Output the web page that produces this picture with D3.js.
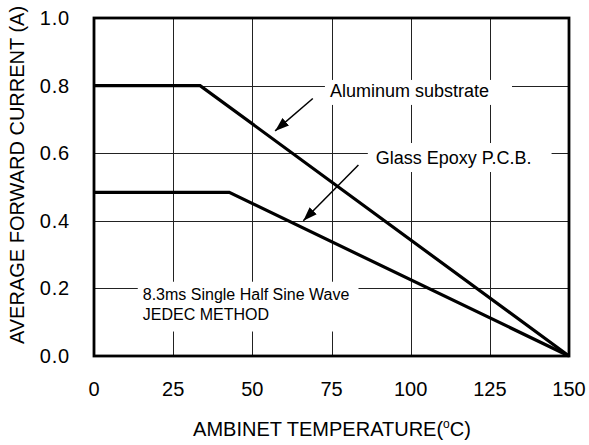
<!DOCTYPE html>
<html>
<head>
<meta charset="utf-8">
<script src="https://cdn.jsdelivr.net/npm/d3@7"></script>
<style>
  body { margin:0; background:#fff; }
  svg text { font-family: "Liberation Sans", Arial, sans-serif; fill:#000; }
</style>
</head>
<body>
<svg id="chart" width="589" height="445"></svg>
<script>
// data
const xTicks = [0, 25, 50, 75, 100, 125, 150];
const yTicks = [0.0, 0.2, 0.4, 0.6, 0.8, 1.0];
const aluminumTemp = [0, 33.5, 150];
const aluminumCurr = [0.8, 0.8, 0];
const glassTemp = [0, 42.7, 150];
const glassCurr = [0.484, 0.484, 0];

const xTitle = "AMBINET TEMPERATURE(";
const yTitle = "AVERAGE FORWARD CURRENT (A)";

// labels: text lines, anchor in data units, arrow (from -> tip) in data units
const labels = [
  { lines: ["Aluminum substrate"], t: 74.5, v: 0.765, size: 18, pad: [5, 23, 1.5, 3.5],
    arrow: { t0: 69.1, v0: 0.762, t1: 57.2, v1: 0.666 } },
  { lines: ["Glass Epoxy P.C.B."], t: 89.0, v: 0.568, size: 18, pad: [8, 20, 5, 4],
    arrow: { t0: 83.5, v0: 0.565, t1: 66.1, v1: 0.400 } },
  { lines: ["8.3ms Single Half Sine Wave", "JEDEC METHOD"], t: 15.4, v: 0.165, size: 16, pad: [5, 9, 4.5, 9],
    lineGap: 19.3 }
];

const W = 589, H = 445;
const m = { top: 18, right: 20, bottom: 89, left: 94 };
const w = W - m.left - m.right, h = H - m.top - m.bottom;

const svg = d3.select("#chart");
const g = svg.append("g").attr("transform", `translate(${m.left},${m.top})`);

const x = d3.scaleLinear().domain([0, 150]).range([0, w]);
const y = d3.scaleLinear().domain([0, 1]).range([h, 0]);

// grid
g.append("g").selectAll("line").data(xTicks.slice(1, -1)).join("line")
  .attr("x1", d => Math.round(x(d)) + 0.5).attr("x2", d => Math.round(x(d)) + 0.5)
  .attr("y1", 0).attr("y2", h)
  .attr("stroke", "#222").attr("stroke-width", 1);
g.append("g").selectAll("line").data(yTicks.slice(1, -1)).join("line")
  .attr("y1", d => Math.round(y(d)) + 0.5).attr("y2", d => Math.round(y(d)) + 0.5)
  .attr("x1", 0).attr("x2", w)
  .attr("stroke", "#222").attr("stroke-width", 1);

// tick labels
g.append("g").selectAll("text").data(yTicks).join("text")
  .attr("x", -24).attr("y", d => y(d) + 7)
  .attr("text-anchor", "end").attr("font-size", 20)
  .attr("letter-spacing", 0.8)
  .text(d => d3.format(".1f")(d));
g.append("g").selectAll("text").data(xTicks).join("text")
  .attr("x", d => x(d)).attr("y", h + 40)
  .attr("text-anchor", "middle").attr("font-size", 20)
  .text(d => d);

// axis titles
const xt = svg.append("text")
  .attr("x", (189 + 475) / 2).attr("y", 436)
  .attr("text-anchor", "middle").attr("font-size", 20);
xt.append("tspan").text(xTitle);
xt.append("tspan").attr("font-size", 12).attr("dy", -8).text("o");
xt.append("tspan").attr("dy", 8).text("C)");

svg.append("text")
  .attr("transform", "translate(24,175) rotate(-90)")
  .attr("text-anchor", "middle").attr("font-size", 20)
  .text(yTitle);

// label boxes + text
labels.forEach(l => {
  const lg = g.append("g");
  const box = lg.append("rect").attr("fill", "#fff");
  const txt = lg.append("text").attr("font-size", l.size);
  l.lines.forEach((s, i) => {
    txt.append("tspan").attr("x", x(l.t)).attr("y", y(l.v) + i * (l.lineGap || 0)).text(s);
  });
  const bb = txt.node().getBBox();
  box.attr("x", bb.x - l.pad[0]).attr("y", bb.y - l.pad[2])
    .attr("width", bb.width + l.pad[0] + l.pad[1])
    .attr("height", bb.height + l.pad[2] + l.pad[3]);
});

// curves
const line = d3.line().x(d => x(d[0])).y(d => y(d[1]));
[[aluminumTemp, aluminumCurr], [glassTemp, glassCurr]].forEach(([ts, vs]) => {
  g.append("path").datum(ts.map((t, i) => [t, vs[i]]))
    .attr("d", line).attr("fill", "none")
    .attr("stroke", "#000").attr("stroke-width", 3.2)
    .attr("stroke-linejoin", "miter");
});

// arrows
svg.append("defs").append("marker")
  .attr("id", "ah").attr("viewBox", "0 0 14 10")
  .attr("refX", 14).attr("refY", 5)
  .attr("markerWidth", 14).attr("markerHeight", 10)
  .attr("markerUnits", "userSpaceOnUse").attr("orient", "auto")
  .append("path").attr("d", "M0,0 L14,5 L0,10 Z").attr("fill", "#000");
labels.filter(l => l.arrow).forEach(l => {
  const a = l.arrow;
  g.append("line")
    .attr("x1", x(a.t0)).attr("y1", y(a.v0))
    .attr("x2", x(a.t1)).attr("y2", y(a.v1))
    .attr("stroke", "#000").attr("stroke-width", 1.5)
    .attr("marker-end", "url(#ah)");
});

// frame
g.append("rect").attr("x", 0).attr("y", 0).attr("width", w).attr("height", h)
  .attr("fill", "none").attr("stroke", "#000").attr("stroke-width", 2.8);
</script>
</body>
</html>
